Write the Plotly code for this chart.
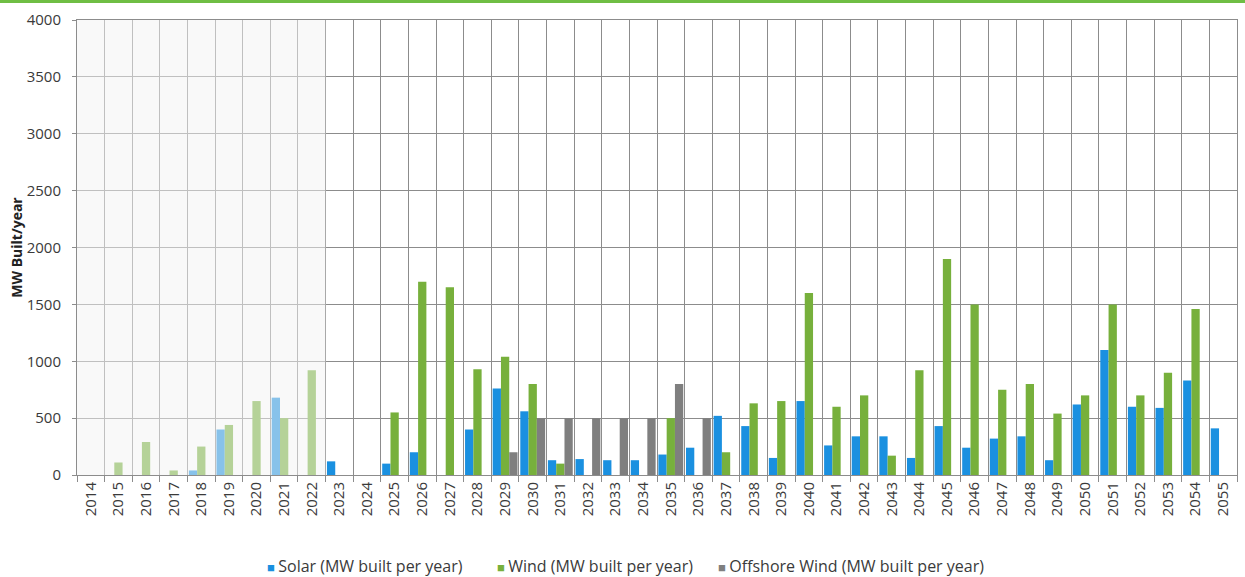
import plotly.graph_objects as go

years = [str(y) for y in range(2014, 2056)]

solar = [0, 0, 0, 0, 40, 400, 0, 680, 0, 120, 0, 100, 200, 0, 400, 760, 560,
         130, 140, 130, 130, 180, 240, 520, 430, 150, 650, 260, 340, 340, 150,
         430, 240, 320, 340, 130, 620, 1100, 600, 590, 830, 410]
wind = [0, 110, 290, 40, 250, 440, 650, 500, 920, 0, 0, 550, 1700, 1650, 930,
        1040, 800, 100, 0, 0, 0, 500, 0, 200, 630, 650, 1600, 600, 700, 170,
        920, 1900, 1500, 750, 800, 540, 700, 1500, 700, 900, 1460, 0]
offshore = [0, 0, 0, 0, 0, 0, 0, 0, 0, 0, 0, 0, 0, 0, 0, 200, 500, 500, 500,
            500, 500, 800, 500, 0, 0, 0, 0, 0, 0, 0, 0, 0, 0, 0, 0, 0, 0, 0, 0,
            0, 0, 0]

names = ["Solar (MW built per year)", "Wind (MW built per year)",
         "Offshore Wind (MW built per year)"]
colors = ["#1a90e0", "#77b03c", "#7f7f7f"]

FONT = "Open Sans"
GRID = "#8c8c8c"
TXT = "#3a3a3a"

W, H = 1245, 577
mt, mb, ml, mr = 20, 102, 77, 8
pw, ph = W - ml - mr, H - mt - mb

fig = go.Figure()
for name, vals, col in zip(names, [solar, wind, offshore], colors):
    fig.add_trace(go.Bar(x=years, y=vals, name=name, marker_color=col,
                         marker_line_width=0, showlegend=False))

# legend entries: small coloured square glyph set tight against the label
legend_px = [227, 457, 678]
legend_ids = ["legend", "legend2", "legend3"]
legend_cfg = {}
for name, col, lid, px in zip(names, colors, legend_ids, legend_px):
    label = (f"<span style='font-size:13px;color:{col}'>■ </span>{name}")
    fig.add_trace(go.Scatter(x=[None], y=[None], mode="markers", name=label,
                             marker=dict(symbol="square", size=7,
                                         color="rgba(0,0,0,0)",
                                         line=dict(width=0)),
                             legend=lid, showlegend=True))
    legend_cfg[lid] = dict(x=(px - ml) / pw, xanchor="left",
                           y=(ph + mt - 566) / ph, yanchor="middle",
                           font=dict(size=16, color=TXT, family=FONT),
                           itemwidth=30, bgcolor="rgba(0,0,0,0)",
                           tracegroupgap=0)

fig.update_layout(
    width=W, height=H,
    margin=dict(l=ml, r=mr, t=mt, b=mb, autoexpand=False),
    paper_bgcolor="white", plot_bgcolor="white",
    barmode="group", bargap=0.1, bargroupgap=0,
    font=dict(family=FONT, size=14, color=TXT),
    showlegend=True,
    xaxis=dict(type="category", tickson="boundaries", showgrid=True,
               gridcolor=GRID, gridwidth=1, tickangle=-90, ticks="outside",
               ticklen=6, tickcolor=GRID, showline=True, linecolor=GRID,
               mirror=True, automargin=False,
               tickfont=dict(size=15, color=TXT)),
    yaxis=dict(range=[0, 4000], dtick=500, showgrid=True, gridcolor=GRID,
               gridwidth=1, ticks="outside", ticklen=4, tickcolor=GRID,
               showline=True, linecolor=GRID, mirror=True, zeroline=False,
               automargin=False, ticklabelstandoff=8,
               tickfont=dict(size=15, color=TXT),
               title=dict(text="<b>MW Built/year</b>", standoff=0,
                          font=dict(size=14, color="#222222"))),
    **legend_cfg,
)

# historical period shading over 2014-2022
fig.add_shape(type="rect", xref="x", yref="paper", x0=-0.5, x1=8.5,
              y0=0, y1=1, fillcolor="rgba(244,244,244,0.5)",
              line_width=0, layer="above")

# green header strip along the top edge
fig.add_shape(type="rect", xref="paper", yref="paper", x0=-ml / pw,
              x1=1 + mr / pw, y0=1 + (mt - 3) / ph,
              y1=1 + mt / ph, fillcolor="#6fbe44", line_width=0)

fig.write_html("out.html")
